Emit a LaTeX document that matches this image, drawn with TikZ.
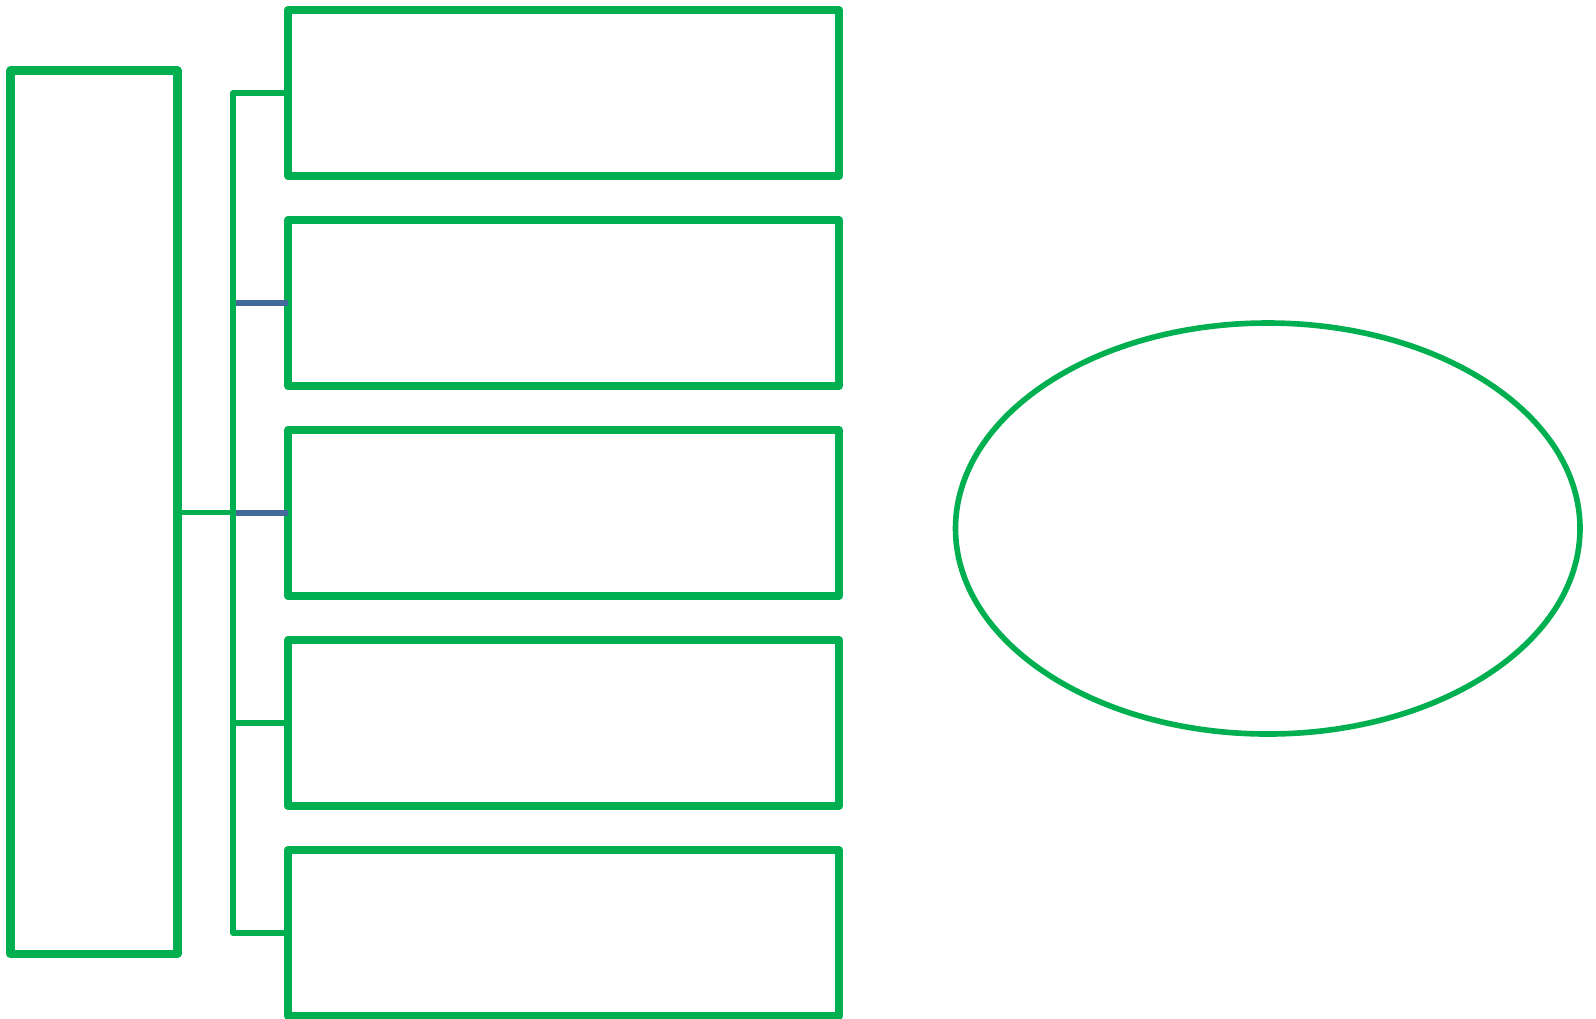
\documentclass[tikz,border=0pt]{standalone}
\usepackage{tikz}
\usetikzlibrary{positioning,calc,shapes.geometric}
\usepackage{xcolor}
\definecolor{mapgreen}{HTML}{00B050}
\definecolor{mapblue}{HTML}{44699B}
\tikzset{
  hubbox/.style={
    rectangle,
    line join=round,
    draw=mapgreen,
    line width=2.3pt,
    outer sep=0pt,
    minimum width=1.67cm,
    minimum height=8.835cm
  },
  stepbox/.style={
    rectangle,
    line join=round,
    draw=mapgreen,
    line width=2.3pt,
    outer sep=0pt,
    minimum width=5.51cm,
    minimum height=1.66cm
  },
  goalshape/.style={
    ellipse,
    draw=mapgreen,
    line width=1.6pt,
    outer sep=0pt,
    minimum width=6.245cm,
    minimum height=4.11cm
  },
  link/.style={
    draw=mapgreen,
    line width=1.5pt,
    line join=round
  },
  bluelink/.style={
    draw=mapblue,
    line width=1.5pt
  }
}

\begin{document}
\begin{tikzpicture}[node distance=0.44cm]
\useasboundingbox (0,0) rectangle (15.96,-10.18);
% left column
\node[hubbox] (hub) at (0.94,-5.1225) {};
% the five boxes
\node[stepbox] (step1) at (5.635,-0.93) {};
\node[stepbox, below=of step1] (step2) {};
\node[stepbox, below=of step2] (step3) {};
\node[stepbox, below=of step3] (step4) {};
\node[stepbox, below=of step4] (step5) {};
% right oval
\node[goalshape] (goal) at (12.6775,-5.285) {};
% bracket
\coordinate (spine) at ($(step3.west)+(-0.55,0)$);
\draw[bluelink] (step2.west) -- (step2.west -| spine);
\draw[bluelink] (step3.west) -- (spine);
\draw[link] (step1.west) -- (step1.west -| spine) |- (step5.west);
\draw[link] (step4.west) -- (step4.west -| spine);
\draw[link] (hub.east) -- (hub.east -| spine);
\end{tikzpicture}
\end{document}
